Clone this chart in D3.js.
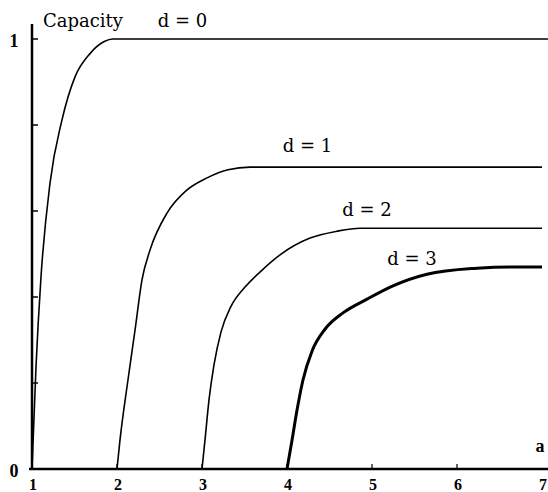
<!DOCTYPE html>
<html>
<head>
<meta charset="utf-8">
<script src="https://d3js.org/d3.v7.min.js"></script>
<style>
  body { margin: 0; background: #fff; }
</style>
</head>
<body>
<div id="my_dataviz"></div>
<script>
// capacity curves (a, capacity)
var d0 = [[1.0, 0], [1.047, 0.237], [1.106, 0.447], [1.212, 0.665], [1.353, 0.812],
          [1.506, 0.912], [1.682, 0.966], [1.85, 0.994], [1.95, 1.0], [7.07, 1.0]];
var d1 = [[2.0, 0], [2.035, 0.067], [2.129, 0.207], [2.212, 0.323], [2.294, 0.44],
          [2.388, 0.509], [2.588, 0.595], [2.824, 0.649], [3.059, 0.677], [3.306, 0.696],
          [3.565, 0.702], [7.0, 0.702]];
var d2 = [[3.0, 0], [3.035, 0.067], [3.082, 0.160], [3.141, 0.242], [3.224, 0.319],
          [3.341, 0.378], [3.506, 0.423], [3.682, 0.458], [3.918, 0.498], [4.271, 0.537],
          [4.588, 0.553], [4.859, 0.560], [7.0, 0.560]];
var d3c = [[4.0, 0], [4.059, 0.067], [4.118, 0.137], [4.188, 0.207], [4.294, 0.274],
           [4.447, 0.325], [4.659, 0.363], [4.941, 0.395], [5.247, 0.426], [5.647, 0.453],
           [6.235, 0.467], [6.62, 0.470], [7.0, 0.470]];

var xTicks = [1, 2, 3, 4, 5, 6, 7];
var yTicks = [0.2, 0.4, 0.6, 0.8, 1];
var yLabels = [0, 1];
var curveLabels = ["d = 0", "d = 1", "d = 2", "d = 3"];
// where each curve label starts (a, capacity of its baseline)
var labelA = [2.48, 3.95, 4.65, 5.18];
var labelC = [1.028, 0.737, 0.589, 0.474];

var width = 548, height = 492;

var svg = d3.select("#my_dataviz")
  .append("svg")
    .attr("width", width)
    .attr("height", height);

var x = d3.scaleLinear().domain([1, 7]).range([32, 542]);
var y = d3.scaleLinear().domain([0, 1]).range([469, 39]);

// axes lines
svg.append("line")
  .attr("x1", x(1)).attr("x2", x(1))
  .attr("y1", y(0) + 1).attr("y2", y(1.035))
  .attr("stroke", "#000").attr("stroke-width", 2.5);
svg.append("line")
  .attr("x1", x(1) - 3).attr("x2", width)
  .attr("y1", y(0)).attr("y2", y(0))
  .attr("stroke", "#000").attr("stroke-width", 2.5);

// y ticks, pointing inward
svg.selectAll("ytick")
  .data(yTicks)
  .enter()
  .append("line")
    .attr("x1", x(1)).attr("x2", x(1) + 6)
    .attr("y1", function(d) { return y(d); })
    .attr("y2", function(d) { return y(d); })
    .attr("stroke", "#000").attr("stroke-width", 1.5);

// x ticks
svg.selectAll("xtick")
  .data(xTicks.slice(1, 6))
  .enter()
  .append("line")
    .attr("x1", function(d) { return x(d); })
    .attr("x2", function(d) { return x(d); })
    .attr("y1", y(0)).attr("y2", y(0) - 5)
    .attr("stroke", "#000").attr("stroke-width", 1.2);

// tick labels
svg.selectAll("xlab")
  .data(xTicks)
  .enter()
  .append("text")
    .attr("x", function(d) { return x(d) + 1; })
    .attr("y", 490)
    .attr("text-anchor", "middle")
    .attr("font-family", "Liberation Serif")
    .attr("font-weight", "bold")
    .attr("font-size", 16)
    .text(function(d) { return d; });

svg.selectAll("ylab")
  .data(yLabels)
  .enter()
  .append("text")
    .attr("x", 14)
    .attr("y", function(d) { return y(d) + 8; })
    .attr("text-anchor", "middle")
    .attr("font-family", "Liberation Serif")
    .attr("font-weight", "bold")
    .attr("font-size", 18)
    .text(function(d) { return d; });

svg.append("text")
  .attr("x", 540).attr("y", 452)
  .attr("text-anchor", "middle")
  .attr("font-family", "Liberation Serif")
  .attr("font-weight", "bold")
  .attr("font-size", 18)
  .text("a");

svg.append("text")
  .attr("x", 43).attr("y", 27)
  .attr("font-family", "DejaVu Serif")
  .attr("font-size", 18)
  .text("Capacity");

// curves
var line = d3.line()
  .x(function(d) { return x(d[0]); })
  .y(function(d) { return y(d[1]); })
  .curve(d3.curveMonotoneX);

var series = [d0, d1, d2, d3c];
var widths = [1.6, 1.6, 1.6, 3];
svg.selectAll("curve")
  .data(series)
  .enter()
  .append("path")
    .attr("d", line)
    .attr("fill", "none")
    .attr("stroke", "#000")
    .attr("stroke-width", function(d, i) { return widths[i]; });

// curve labels
svg.selectAll("clab")
  .data(curveLabels)
  .enter()
  .append("text")
    .attr("x", function(d, i) { return x(labelA[i]); })
    .attr("y", function(d, i) { return y(labelC[i]); })
    .attr("font-family", "DejaVu Serif")
    .attr("font-size", 18)
    .text(function(d) { return d; });
</script>
</body>
</html>
